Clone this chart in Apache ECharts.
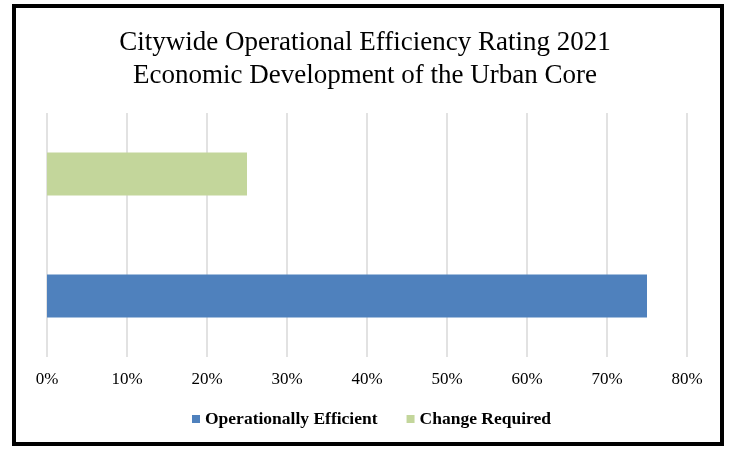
<!DOCTYPE html>
<html>
<head>
<meta charset="utf-8">
<script src="https://cdn.jsdelivr.net/npm/echarts@6/dist/echarts.min.js"></script>
<style>
    html, body { margin: 0; padding: 0; background: #fff; }
    #frame {
        position: absolute;
        left: 12px; top: 4px;
        width: 704px; height: 434px;
        border: 4px solid #000;
    }
    #chart { position: absolute; left: 0; top: 0; width: 730px; height: 449px; }
</style>
</head>
<body>
<div id="frame"></div>
<div id="chart"></div>
<script>
    var categories = ['Operationally Efficient', 'Change Required'];
    var seriesNames = ['Operationally Efficient', 'Change Required'];
    var efficientValues = [75, null];
    var changeValues = [null, 25];
    var tickMax = 80;
    var tickStep = 10;

    var chart = echarts.init(document.getElementById('chart'));
    chart.setOption({
        animation: false,
        title: {
            text: 'Citywide Operational Efficiency Rating 2021\nEconomic Development of the Urban Core',
            left: 'center',
            top: 21,
            textStyle: {
                fontFamily: 'Liberation Serif',
                fontWeight: 'normal',
                fontSize: 27,
                lineHeight: 33,
                color: '#000'
            }
        },
        color: ['#4f81bd', '#c3d69b'],
        legend: {
            data: seriesNames,
            bottom: 16,
            left: 187,
            icon: 'rect',
            itemWidth: 8,
            itemHeight: 8,
            itemGap: 29,
            textStyle: {
                fontFamily: 'Liberation Serif',
                fontWeight: 'bold',
                fontSize: 17.5,
                color: '#000'
            }
        },
        grid: {
            left: 47,
            right: 43,
            top: 113,
            bottom: 92
        },
        xAxis: {
            type: 'value',
            min: 0,
            max: tickMax,
            interval: tickStep,
            axisLine: { show: false },
            axisTick: { show: false },
            splitLine: { lineStyle: { color: '#d9d9d9', width: 1.5 } },
            axisLabel: {
                formatter: '{value}%',
                margin: 14,
                fontFamily: 'Liberation Serif',
                fontSize: 17,
                color: '#000'
            }
        },
        yAxis: {
            type: 'category',
            data: categories,
            axisLine: { show: false },
            axisTick: { show: false },
            axisLabel: { show: false }
        },
        series: [
            {
                name: seriesNames[0],
                type: 'bar',
                stack: 'all',
                barWidth: 43,
                data: efficientValues
            },
            {
                name: seriesNames[1],
                type: 'bar',
                stack: 'all',
                barWidth: 43,
                data: changeValues
            }
        ]
    });
</script>
</body>
</html>
